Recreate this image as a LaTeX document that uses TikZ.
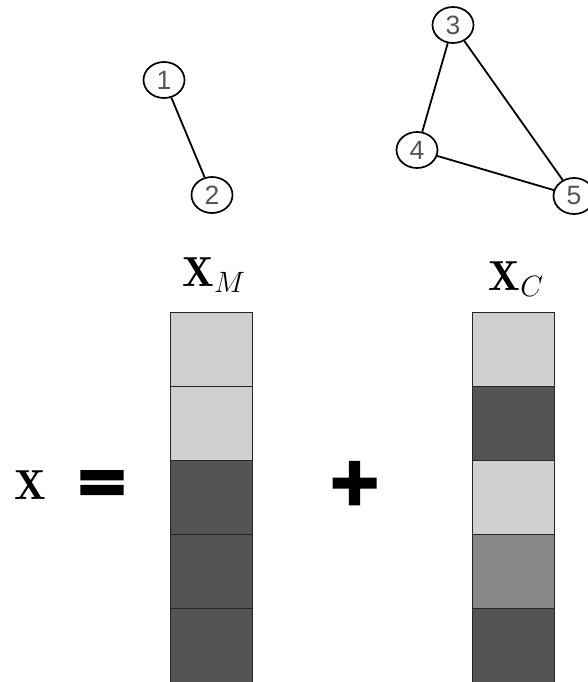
\RequirePackage{fix-cm}
\documentclass[tikz,border=0pt]{standalone}
\usepackage{fontspec}
\usepackage{graphicx}
\usepackage{tikz}
\usetikzlibrary{shapes.geometric, positioning}
\newfontfamily\numfont{Liberation Sans}
\newfontfamily\plusfont{Liberation Sans Bold}[FakeBold=2.1]
\newfontfamily\eqfont{Liberation Sans Bold}[FakeBold=8]
\definecolor{celllight}{RGB}{208, 208, 208}
\definecolor{celldark}{RGB}{84, 84, 84}
\definecolor{cellmid}{RGB}{136, 136, 136}
\definecolor{numgray}{RGB}{85, 85, 85}

\begin{document}
\begin{tikzpicture}[x=1pt, y=-1pt,
  vertex/.style={draw, ellipse, line width=1.7pt, minimum width=41pt, minimum height=36pt,
    inner sep=0pt, text=numgray, font=\numfont\fontsize{26.5}{26.5}\selectfont},
  link/.style={line width=1.8pt},
  cell/.style={draw=black!85, line width=1pt, minimum width=82pt, minimum height=74pt,
    inner sep=0pt, outer sep=0pt},
  mathlbl/.style={anchor=base, inner sep=0pt, font=\fontsize{42}{50}\selectfont}]
  \useasboundingbox (0,0) rectangle (588,682);
  \clip (0,0) rectangle (588,682);

  % the two graphs
  \node[vertex] (n1) at (164,80) {1};
  \node[vertex] (n2) at (212,195) {2};
  \node[vertex] (n3) at (453,25) {3};
  \node[vertex] (n4) at (417,150) {4};
  \node[vertex] (n5) at (574,196) {5};
  \draw[link] (n1) -- (n2);
  \draw[link] (n3) -- (n4);
  \draw[link] (n3) -- (n5);
  \draw[link] (n4) -- (n5);

  % the two columns
  \node[cell, fill=celllight] (m1) at (211,349) {};
  \foreach \i/\c in {2/celllight, 3/celldark, 4/celldark, 5/celldark}{
    \pgfmathtruncatemacro\j{\i-1}
    \node[cell, fill=\c, below=0pt of m\j] (m\i) {};
  }
  \node[cell, fill=celllight] (c1) at (513,349) {};
  \foreach \i/\c in {2/celldark, 3/celllight, 4/cellmid, 5/celldark}{
    \pgfmathtruncatemacro\j{\i-1}
    \node[cell, fill=\c, below=0pt of c\j] (c\i) {};
  }

  % labels and operators
  \node[mathlbl] (xm) at (214,286) {$\mathbf{X}_M$};
  \node[mathlbl] (xc) at (516,290) {$\mathbf{X}_C$};
  \node[mathlbl] (x) at (30.5,499) {$\mathbf{X}$};
  \node[inner sep=0pt, font=\eqfont\fontsize{55}{55}\selectfont] (eq) at (102,486.5) {\scalebox{1.35}[1]{=}};
  \node[inner sep=0pt, font=\plusfont\fontsize{84}{84}\selectfont] (plus) at (354.5,486.5) {+};
\end{tikzpicture}
\end{document}
